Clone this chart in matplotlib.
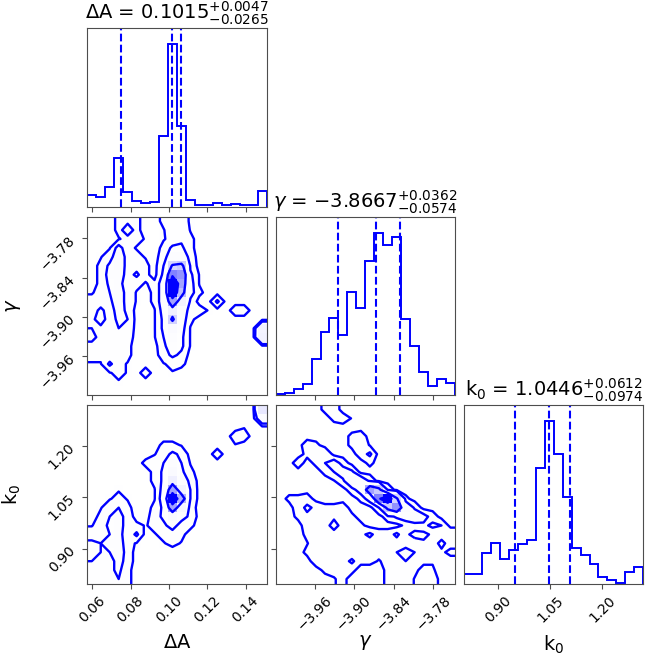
import numpy as np
import matplotlib
matplotlib.use("Agg")
import matplotlib.pyplot as plt
from matplotlib.colors import LinearSegmentedColormap

# ---------- parameters ----------
labels = [r"$\Delta$A", r"$\gamma$", r"k$_0$"]
ranges = [(0.0574, 0.1510), (-4.019, -3.747), (0.8007, 1.318)]
medians = [0.1015, -3.8667, 1.0446]
err_up = [0.0047, 0.0362, 0.0612]
err_lo = [0.0265, 0.0574, 0.0974]

ticks = [
    [0.06, 0.08, 0.10, 0.12, 0.14],
    [-3.96, -3.90, -3.84, -3.78],
    [0.90, 1.05, 1.20],
]

# 1D histograms (20 bins over each range)
hist_dA = [36, 28, 58, 148, 43, 18, 11, 15, 213, 493, 246, 20, 5, 5, 10, 5, 7, 5, 5, 48]
hist_gamma = [4, 8, 20, 35, 110, 190, 233, 180, 310, 263, 405, 488, 453, 477, 230, 148, 70, 27, 50, 38]
hist_k0 = [28, 30, 93, 122, 74, 102, 120, 132, 350, 490, 390, 262, 107, 85, 60, 20, 12, 2, 35, 50]

# 2D histograms, rows listed from top (high y) to bottom
grid_dA_gamma = """
0 0 0 2 3 2 0 0 2 3 2 1 0 0 0 0 0 0 0 0
0 0 0 2 10 2 0 0 1 3 4 1 0 0 0 0 0 0 0 0
0 0 0 1 2 2 1 0 1 2 4 2 0 0 0 0 0 0 0 0
0 0 1 7 2 1 0 0 2 6 6 2 0 0 0 0 0 0 0 0
0 1 3 9 3 2 1 0 3 9 10 3 0 0 0 0 0 0 0 0
0 2 6 9 3 3 2 0 5 40 45 4 0 0 0 0 0 0 0 0
0 2 7 8 3 6 2 0 6 70 65 6 1 0 0 0 0 0 0 0
0 2 6 7 2 2 1 2 8 100 60 7 1 0 0 0 0 0 0 0
1 2 5 8 3 1 0 2 8 100 50 7 2 0 0 0 0 0 0 0
2 3 4 8 3 1 0 2 8 60 20 4 0 0 6 0 0 0 0 0
3 6 3 7 4 0 0 1 7 24 9 3 3 1 0 0 3 3 0 0
4 7 3 6 5 0 0 1 6 42 8 2 0 0 0 0 0 0 0 0
5 4 3 5 4 0 0 1 6 14 7 1 0 0 0 0 0 0 0 20
6 4 2 4 3 0 0 1 5 10 6 1 0 0 0 0 0 0 0 22
4 2 3 4 2 0 0 0 4 8 6 1 0 0 0 0 0 0 0 0
2 2 2 4 2 0 0 0 3 6 4 0 0 0 0 0 0 0 0 0
1 1 6 2 1 0 0 0 1 2 2 0 0 0 0 0 0 0 0 0
0 0 1 2 1 0 3 0 0 1 0 0 0 0 0 0 0 0 0 0
0 0 0 1 0 0 0 0 0 0 0 0 0 0 0 0 0 0 0 0
0 0 0 0 0 0 0 0 0 0 0 0 0 0 0 0 0 0 0 0
"""

grid_dA_k0 = """
0 0 0 0 0 0 0 0 0 0 0 0 0 0 0 0 0 0 0 30
0 0 0 0 0 0 0 0 0 0 0 0 0 0 0 0 0 0 0 12
0 0 0 0 0 0 0 0 0 0 0 0 0 0 0 0 0 1 0 0
0 0 0 0 0 0 0 0 0 0 0 0 0 0 0 0 3 3 0 0
0 0 0 0 0 0 0 0 2 2 1 0 0 0 0 0 1 0 0 0
0 0 0 0 0 0 0 1 3 6 4 0 0 0 3 0 0 0 0 0
0 0 0 0 0 0 2 3 5 9 5 1 0 0 0 0 0 0 0 0
0 0 0 0 0 0 0 2 6 14 6 2 0 0 0 0 0 0 0 0
0 0 0 0 0 0 0 2 6 24 8 4 0 0 0 0 0 0 0 0
0 0 0 1 0 0 0 1 7 60 20 5 0 0 0 0 0 0 0 0
0 0 1 2 1 0 0 1 8 100 55 5 0 0 0 0 0 0 0 0
0 1 3 5 2 0 0 2 6 60 16 3 0 0 0 0 0 0 0 0
0 2 5 7 3 0 0 3 6 14 7 4 0 0 0 0 0 0 0 0
1 3 6 7 3 2 1 2 4 7 3 2 0 0 0 0 0 0 0 0
3 3 5 7 2 6 0 1 2 3 2 0 0 0 0 0 0 0 0 0
6 5 7 8 2 1 0 0 1 2 1 0 0 0 0 0 0 0 0 0
7 5 5 8 3 0 0 0 0 0 0 0 0 0 0 0 0 0 0 0
5 4 3 7 3 0 0 0 0 0 0 0 0 0 0 0 0 0 0 0
4 3 4 6 2 0 0 0 0 0 0 0 0 0 0 0 0 0 0 0
5 3 3 5 2 0 0 0 0 0 0 0 0 0 0 0 0 0 0 0
"""

grid_gamma_k0 = """
0 0 0 0 0 2 3 0 0 0 0 0 0 0 0 0 0 0 0 0
0 0 0 0 0 0 2 3 1 0 0 0 0 0 0 0 0 0 0 0
0 0 0 0 0 0 0 0 0 0 0 0 0 0 0 0 0 0 0 0
0 0 0 0 0 0 0 0 2 3 0 0 0 0 0 0 0 0 0 0
0 0 0 3 2 0 0 0 2 3 1 0 0 0 0 0 0 0 0 0
0 0 0 2 4 5 0 0 0 3 6 0 0 0 0 0 0 0 0 0
0 0 3 0 2 5 8 3 0 0 2 0 0 0 0 0 0 0 0 0
0 0 0 0 0 2 5 8 6 0 0 0 0 0 0 0 0 0 0 0
0 0 0 0 0 0 1 4 12 10 4 0 0 0 0 0 0 0 0 0
0 0 0 0 0 0 0 0 3 8 60 45 4 0 0 0 0 0 0 0
0 2 2 3 0 0 0 0 0 2 8 70 100 40 2 0 0 0 0 0
0 0 3 6 4 2 2 3 0 0 0 5 45 65 12 4 0 0 0 0
0 0 2 4 4 3 4 4 2 0 0 0 3 6 8 10 7 3 0 0
0 0 0 3 4 3 7 3 3 2 0 0 0 0 2 3 4 6 5 0
0 0 0 2 4 3 3 4 3 4 6 3 3 6 2 0 0 2 3 5
0 0 0 1 3 4 3 3 3 3 3 3 4 3 4 3 2 3 0 3
0 0 0 2 5 5 2 3 2 3 2 2 3 5 6 5 3 2 2 0
0 0 0 0 3 3 2 3 6 2 2 1 2 4 5 3 2 2 3 3
0 0 0 0 0 2 2 2 2 0 0 0 2 3 3 2 0 0 5 3
0 0 0 0 0 0 1 2 0 0 0 0 2 4 3 1 0 0 2 2
"""

levels = [1.2, 5.0, 37.0, 75.0]

color = "blue"
nbins = 20

plt.rcParams["axes.edgecolor"] = "0.3"
plt.rcParams["xtick.color"] = "0.3"
plt.rcParams["ytick.color"] = "0.3"
plt.rcParams["xtick.labelcolor"] = "black"
plt.rcParams["ytick.labelcolor"] = "black"


def read_grid(text):
    rows = [[float(v) for v in line.split()] for line in text.strip().splitlines()]
    return np.array(rows)[::-1]  # bottom row first


def edges(i):
    return np.linspace(ranges[i][0], ranges[i][1], nbins + 1)


# ---------- figure layout ----------
fig = plt.figure(figsize=(6.70, 6.64), dpi=100)
W, H = 670.0, 664.0
lefts = [87.3, 275.7, 464.0]
tops = [28.0, 216.7, 405.0]
pw, ph = 179.3, 178.5

axes = {}
for i in range(3):
    for j in range(i + 1):
        rect = [lefts[j] / W, 1 - (tops[i] + ph) / H, pw / W, ph / H]
        axes[i, j] = fig.add_axes(rect)

density_cmap = LinearSegmentedColormap.from_list("density", [color, (1, 1, 1, 0)])

# ---------- diagonal: 1D histograms ----------
hists = [hist_dA, hist_gamma, hist_k0]
for i in range(3):
    ax = axes[i, i]
    n = np.array(hists[i], dtype=float)
    ax.stairs(n, edges(i), color=color, lw=1.4)
    q = [medians[i] - err_lo[i], medians[i], medians[i] + err_up[i]]
    for v in q:
        ax.axvline(v, ls="dashed", color=color, lw=1.5)
    ax.set_xlim(ranges[i])
    ax.set_ylim(0, 1.1 * n.max())
    ax.set_yticks([])
    title = r"{0} = ${{{1:.4f}}}_{{-{2:.4f}}}^{{+{3:.4f}}}$".format(
        labels[i], medians[i], err_lo[i], err_up[i])
    ax.set_title(title, fontsize=14)

# ---------- off-diagonal: 2D densities ----------
grids = {(1, 0): grid_dA_gamma, (2, 0): grid_dA_k0, (2, 1): grid_gamma_k0}
for (i, j), text in grids.items():
    ax = axes[i, j]
    Z = read_grid(text)
    xe, ye = edges(j), edges(i)
    xc = 0.5 * (xe[1:] + xe[:-1])
    yc = 0.5 * (ye[1:] + ye[:-1])

    # pad like corner does so contours run off the edges
    Z2 = Z.min() + np.zeros((Z.shape[0] + 4, Z.shape[1] + 4))
    Z2[2:-2, 2:-2] = Z
    Z2[2:-2, 1] = Z[:, 0]
    Z2[2:-2, -2] = Z[:, -1]
    Z2[1, 2:-2] = Z[0]
    Z2[-2, 2:-2] = Z[-1]
    Z2[1, 1] = Z[0, 0]
    Z2[1, -2] = Z[0, -1]
    Z2[-2, 1] = Z[-1, 0]
    Z2[-2, -2] = Z[-1, -1]
    dx = xc[1] - xc[0]
    dy = yc[1] - yc[0]
    X2 = np.concatenate([xc[0] + np.array([-2, -1]) * dx, xc, xc[-1] + np.array([1, 2]) * dx])
    Y2 = np.concatenate([yc[0] + np.array([-2, -1]) * dy, yc, yc[-1] + np.array([1, 2]) * dy])

    ax.pcolormesh(xe, ye, Z.max() - Z, cmap=density_cmap, shading="flat")
    ax.contour(X2, Y2, Z2, levels, colors=color, linewidths=1.7)
    ax.set_xlim(ranges[j])
    ax.set_ylim(ranges[i])

# ---------- ticks and labels ----------
for (i, j), ax in axes.items():
    ax.set_xticks(ticks[j])
    if i == 2:
        ax.set_xticklabels(["{:.2f}".format(t).replace("-", "\u2212") for t in ticks[j]],
                           rotation=45, fontsize=10)
        ax.set_xlabel(labels[j], fontsize=14)
        ax.xaxis.set_label_coords(0.5, -0.28)
    else:
        ax.set_xticklabels([])
    if i != j:
        ax.set_yticks(ticks[i])
        if j == 0:
            ax.set_yticklabels(["{:.2f}".format(t).replace("-", "\u2212") for t in ticks[i]],
                               rotation=45, fontsize=10)
            ax.set_ylabel(labels[i], fontsize=14)
            ax.yaxis.set_label_coords(-0.36, 0.5)
        else:
            ax.set_yticklabels([])

fig.savefig("out.png", dpi=100)
